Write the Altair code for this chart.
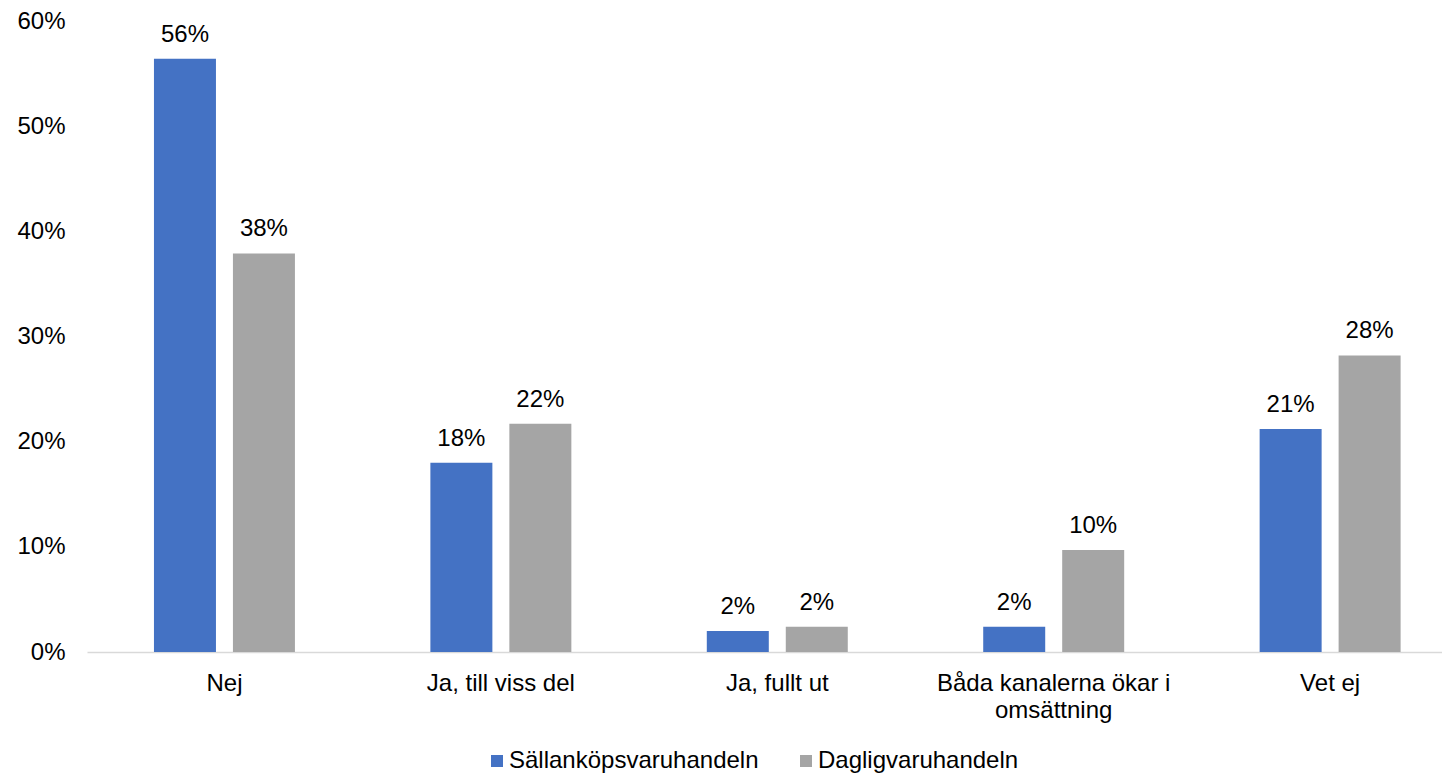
import altair as alt
import pandas as pd

categories = ["Nej", "Ja, till viss del", "Ja, fullt ut", "Båda kanalerna ökar i omsättning", "Vet ej"]
series = ["Sällanköpsvaruhandeln", "Dagligvaruhandeln"]
sallankop = [0.564, 0.180, 0.020, 0.024, 0.212]
daglig = [0.379, 0.217, 0.024, 0.097, 0.282]
colors = ["#4472C4", "#A5A5A5"]

rows = []
for i, c in enumerate(categories):
    rows.append({"kategori": c, "serie": series[0], "andel": sallankop[i]})
    rows.append({"kategori": c, "serie": series[1], "andel": daglig[i]})
df = pd.DataFrame(rows)

FONT = "Liberation Sans"
FS = 24

x = alt.X(
    "kategori:N",
    sort=categories,
    title=None,
    scale=alt.Scale(paddingInner=0.49, paddingOuter=0.196, align=0.618),
    axis=alt.Axis(
        labelAngle=0,
        ticks=False,
        domainColor="#D9D9D9",
        domainWidth=1.5,
        labelPadding=19,
        labelFont=FONT,
        labelFontSize=FS,
        labelColor="#000000",
        labelLineHeight=27,
        labelLimit=400,
        labelExpr="datum.label == 'Båda kanalerna ökar i omsättning' ? ['Båda kanalerna ökar i', 'omsättning'] : datum.label",
    ),
)
xo = alt.XOffset("serie:N", sort=series, scale=alt.Scale(paddingInner=0.215, paddingOuter=0))
y = alt.Y(
    "andel:Q",
    title=None,
    scale=alt.Scale(domain=[0, 0.6], nice=False),
    axis=alt.Axis(
        values=[0, 0.1, 0.2, 0.3, 0.4, 0.5, 0.6],
        format=".0%",
        grid=False,
        domain=False,
        ticks=False,
        labelPadding=22,
        labelFont=FONT,
        labelFontSize=FS,
        labelColor="#000000",
    ),
)
color = alt.Color(
    "serie:N",
    sort=series,
    scale=alt.Scale(domain=series, range=colors),
    legend=alt.Legend(
        title=None,
        orient="none",
        direction="horizontal",
        legendX=398,
        legendY=728,
        symbolType="square",
        symbolSize=144,
        symbolStrokeWidth=0,
        labelFont=FONT,
        labelFontSize=FS,
        labelColor="#000000",
        labelOffset=0,
        labelLimit=400,
        columnPadding=35,
        padding=0,
    ),
)

bars = alt.Chart(df).mark_bar().encode(x=x, xOffset=xo, y=y, color=color)
labels = alt.Chart(df).mark_text(
    baseline="alphabetic", dy=-17, font=FONT, fontSize=FS, color="#000000"
).encode(x=x, xOffset=xo, y=y, text=alt.Text("andel:Q", format=".0%"))

chart = (
    alt.layer(bars, labels)
    .properties(
        width=1355,
        height=631,
        background="#FFFFFF",
        autosize=alt.AutoSizeParams(type="none"),
        padding={"left": 79, "top": 13, "right": 0, "bottom": 121},
    )
    .configure_view(strokeWidth=0, stroke="transparent")
)

chart.save("out.html", embed_options={"renderer": "svg", "actions": False})
